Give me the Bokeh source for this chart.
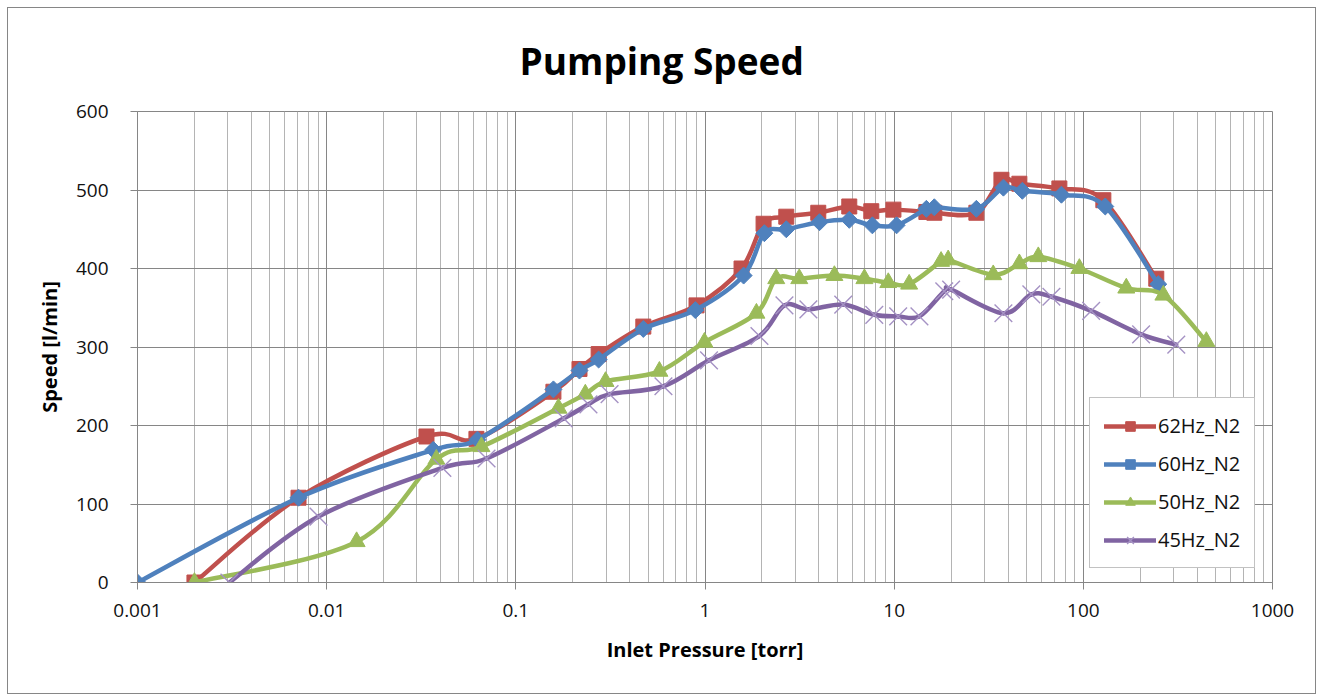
import numpy as np
from bokeh.plotting import figure
from bokeh.models import (FixedTicker, CustomJSTickFormatter, Legend, LegendItem,
                          Range1d, ColumnDataSource)
from bokeh.embed import file_html
from bokeh.resources import INLINE

# ---------------- data ----------------
title_text = "Pumping Speed"
x_label = "Inlet Pressure [torr]"
y_label = "Speed [l/min]"

x_ticks = [0.001, 0.01, 0.1, 1, 10, 100, 1000]
x_tick_labels = ["0.001", "0.01", "0.1", "1", "10", "100", "1000"]
y_ticks = [0, 100, 200, 300, 400, 500, 600]

series_names = ["62Hz_N2", "60Hz_N2", "50Hz_N2", "45Hz_N2"]

hz62_x = [0.002, 0.0071, 0.0337, 0.0619, 0.158, 0.217, 0.274, 0.472, 0.902, 1.56, 2.04,
          2.69, 3.97, 5.79, 7.57, 9.91, 14.8, 16.3, 27.2, 36.9, 45.9, 74.7, 127.6, 243]
hz62_y = [0, 108, 186, 183, 243, 272, 291, 326, 353, 400, 457,
          466, 471, 479, 473, 475, 472, 471, 471, 513, 508, 502, 487, 387]

hz60_x = [0.001, 0.0071, 0.0366, 0.0627, 0.158, 0.217, 0.274, 0.472, 0.889, 1.60, 2.06,
          2.69, 4.03, 5.79, 7.67, 10.3, 14.8, 16.3, 27.2, 37.8, 47.6, 76.6, 130.6, 249]
hz60_y = [0, 108, 169, 182, 246, 270, 284, 323, 347, 391, 445,
          450, 459, 462, 455, 455, 476, 478, 476, 503, 499, 494, 479, 380]

hz50_x = [0.002, 0.0144, 0.038, 0.0658, 0.168, 0.233, 0.298, 0.574, 0.993, 1.87, 2.38,
          3.15, 4.83, 6.96, 9.31, 12.0, 17.7, 19.3, 33.4, 45.9, 57.8, 95.3, 168.7, 265, 447]
hz50_y = [0, 52, 157, 173, 222, 240, 256, 269, 306, 343, 387,
          387, 391, 387, 382, 380, 409, 411, 392, 406, 415, 400, 375, 366, 307]

hz45_x = [0.00306, 0.00906, 0.0409, 0.070, 0.179, 0.242, 0.313, 0.603, 1.05, 1.94, 2.63,
          3.52, 5.38, 7.85, 10.5, 13.6, 18.4, 20.0, 37.8, 53.1, 67.8, 110, 202, 310]
hz45_y = [0, 84, 146, 158, 209, 227, 240, 250, 283, 314, 353,
          348, 354, 341, 339, 339, 371, 373, 343, 367, 364, 346, 316, 303]

# ---------------- styling ----------------
FONT = "Open Sans"
colors = ["#C0504D", "#4F81BD", "#9BBB59", "#8064A2"]
marker_colors = ["#C0504D", "#4F81BD", "#9BBB59", "#A592C4"]
markers = ["square", "square", "triangle", "x"]
marker_angles = [0.0, np.pi / 4, 0.0, 0.0]
marker_sizes = [15, 12, 17, 25]
GRAY = "#868686"


def smooth_source(xs, ys):
    """Excel-like smoothed line: cubic Bezier segments (Catmull-Rom tangents)
    computed in log10(x) / y space, where the axis mapping is linear."""
    u = np.log10(np.asarray(xs, float))
    v = np.asarray(ys, float)
    P = np.column_stack([u, v])
    prev = np.vstack([P[:1], P[:-1]])
    nxt = np.vstack([P[1:], P[-1:]])
    tan = (nxt - prev) / 6.0
    c0 = P[:-1] + tan[:-1]
    c1 = P[1:] - tan[1:]
    return ColumnDataSource(dict(
        x0=10 ** u[:-1], y0=v[:-1], x1=10 ** u[1:], y1=v[1:],
        cx0=10 ** c0[:, 0], cy0=c0[:, 1], cx1=10 ** c1[:, 0], cy1=c1[:, 1]))


p = figure(width=1309, height=687, x_axis_type="log",
           x_range=Range1d(x_ticks[0], x_ticks[-1]),
           y_range=Range1d(y_ticks[0], y_ticks[-1]),
           output_backend="svg", toolbar_location=None,
           min_border_left=129, min_border_right=45,
           min_border_top=103, min_border_bottom=113)
p.margin = (7, 0, 0, 7)
p.background_fill_color = "white"
p.border_fill_color = "white"
p.outline_line_color = GRAY
p.styles = {"border": "1px solid " + GRAY}

# title
p.title.text = title_text
p.title.align = "left"
p.title.offset = 382
p.title.vertical_align = "top"
p.title.text_font = FONT
p.title.text_font_size = "37px"
p.title.text_font_style = "bold"
p.title.text_color = "#000000"
p.title.standoff = 48

# ticks / grid
minor = [m * 10.0 ** e for e in range(-3, 3) for m in range(2, 10)]
p.xaxis.ticker = FixedTicker(ticks=x_ticks, minor_ticks=minor)
p.xaxis.formatter = CustomJSTickFormatter(
    args=dict(vals=x_ticks, labels=x_tick_labels),
    code="""
    for (let i = 0; i < vals.length; i++) {
        if (Math.abs(Math.log10(vals[i]) - Math.log10(tick)) < 1e-6) return labels[i];
    }
    return '';
    """)
p.yaxis.ticker = FixedTicker(ticks=y_ticks)

for ax in (p.xaxis[0], p.yaxis[0]):
    ax.axis_line_color = GRAY
    ax.major_tick_line_color = GRAY
    ax.major_tick_out = 7
    ax.major_tick_in = 0
    ax.minor_tick_line_color = None
    ax.major_label_text_font = FONT
    ax.major_label_text_font_size = "19px"
    ax.major_label_text_color = "#111111"
    ax.axis_label_text_font = FONT
    ax.axis_label_text_font_size = "20px"
    ax.axis_label_text_font_style = "bold"
    ax.axis_label_text_color = "#000000"

p.xaxis.axis_label = x_label
p.yaxis.axis_label = y_label
p.xaxis.major_label_standoff = 14
p.xaxis.axis_label_standoff = 16
p.yaxis.major_label_standoff = 22
p.yaxis.axis_label_standoff = 10

p.xgrid.grid_line_color = GRAY
p.xgrid.minor_grid_line_color = "#b4b4b4"
p.ygrid.grid_line_color = GRAY

# series
xs_all = [hz62_x, hz60_x, hz50_x, hz45_x]
ys_all = [hz62_y, hz60_y, hz50_y, hz45_y]
items = []
for name, xs, ys, c, mc, mk, ma, ms in zip(series_names, xs_all, ys_all, colors,
                                            marker_colors, markers, marker_angles,
                                            marker_sizes):
    src = smooth_source(xs, ys)
    r_line = p.bezier(x0="x0", y0="y0", x1="x1", y1="y1", cx0="cx0", cy0="cy0",
                      cx1="cx1", cy1="cy1", source=src, line_color=c,
                      line_width=4.5, line_cap="round")
    if mk == "x":
        r_pts = p.scatter(xs, ys, marker=mk, size=ms, line_color=mc, line_width=1.4)
    else:
        r_pts = p.scatter(xs, ys, marker=mk, size=ms, angle=ma, fill_color=mc,
                          line_color=mc, line_width=1)
    items.append(LegendItem(label=name, renderers=[r_line, r_pts]))

legend = Legend(items=items, location=(952, 14), border_line_color=GRAY,
                border_line_width=1, background_fill_color="white",
                background_fill_alpha=1, padding=14, spacing=11, margin=0,
                glyph_width=52, glyph_height=24, label_height=24, label_standoff=2,
                label_text_font=FONT, label_text_font_size="20px",
                label_text_color="#111111")
p.add_layout(legend)

open("out.html", "w").write(file_html(p, INLINE))
